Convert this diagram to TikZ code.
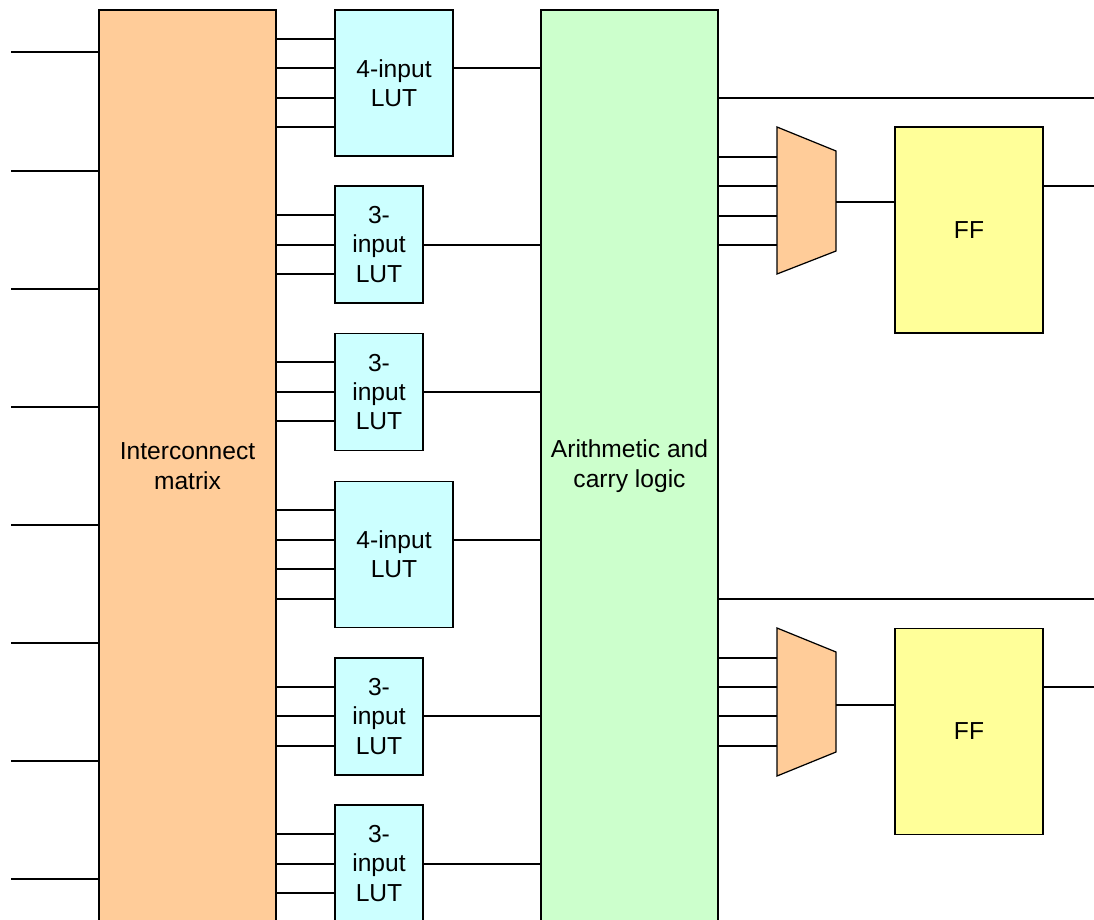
\documentclass[tikz,border=0pt]{standalone}
\usepackage{fontspec}
\setmainfont{Liberation Sans}

\definecolor{matcol}{HTML}{FFCC99}
\definecolor{lutcol}{HTML}{CCFFFF}
\definecolor{arcol}{HTML}{CCFFCC}
\definecolor{ffcol}{HTML}{FFFF99}

\begin{document}
\begin{tikzpicture}[
  x=0.02cm, y=-0.02cm,
  font=\fontsize{14}{16.7}\selectfont,
  line width=0.7pt,
  blk/.style={draw, align=center, inner sep=0pt},
  bigblk/.style={blk, minimum width=3.54cm, minimum height=18.24cm},
  lutfour/.style={blk, fill=lutcol, minimum width=2.36cm, minimum height=2.92cm},
  lutthree/.style={blk, fill=lutcol, minimum width=1.76cm, minimum height=2.34cm},
  ffblk/.style={blk, fill=ffcol, minimum width=2.96cm, minimum height=4.12cm},
  muxshape/.style={draw, fill=matcol, line join=miter}
]
\useasboundingbox (0,0) rectangle (1094,919);

% ---- big blocks ----
\node[bigblk, fill=matcol] (mat)   at (187.5,466) {Interconnect\\matrix};
\node[bigblk, fill=arcol]  (arith) at (629.5,466) {Arithmetic and\\carry logic};

% ---- look-up tables ----
\node[lutfour]  (lutA) at (394,83)    {4-input\\LUT};
\node[lutthree] (lutB) at (379,244.5) {3-\\input\\LUT};
\node[lutthree] (lutC) at (379,392)   {3-\\input\\LUT};
\node[lutfour]  (lutD) at (394,554.5) {4-input\\LUT};
\node[lutthree] (lutE) at (379,716.5) {3-\\input\\LUT};
\node[lutthree] (lutF) at (379,863.5) {3-\\input\\LUT};

% ---- multiplexers (trapezoids) and flip-flops ----
\draw[muxshape] (777,127) coordinate (muxA) -- (836,151) -- (836,251)
  coordinate (muxAout) -- (777,274) -- cycle;
\draw[muxshape] (777,628) coordinate (muxB) -- (836,652) -- (836,752)
  coordinate (muxBout) -- (777,776) -- cycle;
\node[ffblk] (ffA) at (969,230)   {FF};
\node[ffblk] (ffB) at (969,731.5) {FF};

% ---- inputs of the matrix ----
\foreach \y [count=\i] in {52,171,289,407,525,643,761,879} {
  \coordinate (in\i) at (11,\y);
  \draw (in\i) -- (in\i -| mat.west);
}

% ---- matrix -> LUTs -> arithmetic ----
\foreach \l/\y in {lutA/39, lutA/68, lutA/98, lutA/127, lutB/215, lutB/245, lutB/274,
                   lutC/362, lutC/392, lutC/421, lutD/510, lutD/540, lutD/569, lutD/599,
                   lutE/687, lutE/716, lutE/746, lutF/834, lutF/864, lutF/893}
  \draw (mat.east |- 0,\y) -- (\l.west |- 0,\y);
\foreach \l/\y in {lutA/68, lutB/245, lutC/392, lutD/540, lutE/716, lutF/864}
  \draw (\l.east |- 0,\y) -- (arith.west |- 0,\y);

% ---- arithmetic -> muxes -> flip-flops ----
\foreach \m/\y in {muxA/157, muxA/186, muxA/216, muxA/245,
                   muxB/658, muxB/687, muxB/716, muxB/746}
  \draw (arith.east |- 0,\y) -- (\m |- 0,\y);
\draw (muxAout |- 0,202) -- (ffA.west |- 0,202);
\draw (muxBout |- 0,705) -- (ffB.west |- 0,705);

% ---- outputs ----
\coordinate (outA) at (1094,98);
\coordinate (outB) at (1094,186);
\coordinate (outC) at (1094,599);
\coordinate (outD) at (1094,687);
\draw (arith.east |- outA) -- (outA);
\draw (ffA.east |- outB) -- (outB);
\draw (arith.east |- outC) -- (outC);
\draw (ffB.east |- outD) -- (outD);
\end{tikzpicture}
\end{document}
